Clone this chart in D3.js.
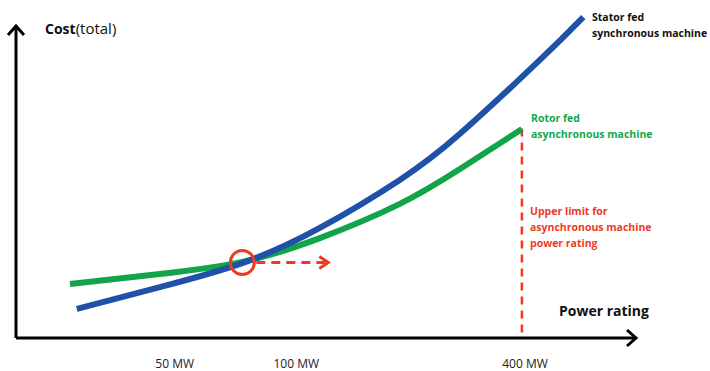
<!DOCTYPE html>
<html><head><meta charset="utf-8">
<script src="https://cdn.jsdelivr.net/npm/d3@7"></script>
<style>body{margin:0;background:#fff}svg{display:block}text{font-family:"Open Sans",sans-serif}</style>
</head><body><svg id="c" width="710" height="371"></svg>
<script>
// Data (abstract chart units: x 0-100 power rating position, y 0-100 total cost)
const statorX = [9.8, 23.2, 36.5, 49.0, 61.9, 71.6, 84.5, 91.5];
const statorY = [9.1, 15.9, 23.4, 34.4, 49.4, 63.8, 86.9, 100.3];
const rotorX  = [8.7, 23.2, 36.5, 49.0, 61.9, 71.6, 81.6];
const rotorY  = [16.9, 20.0, 23.8, 31.2, 41.9, 52.8, 65.3];
const tickLabels = ["50 MW", "100 MW", "400 MW"];
const tickPos = [25.6, 45.2, 82.1];
const crossing = [36.5, 23.6];
const limitX = 81.6, limitTop = 65.5;

const svg = d3.select("#c");
const x = d3.scaleLinear().domain([0, 100]).range([16, 636]);
const y = d3.scaleLinear().domain([0, 100]).range([338, 18]);

const line = d3.line().x(d => x(d[0])).y(d => y(d[1])).curve(d3.curveNatural);
const stator = d3.zip(statorX, statorY), rotor = d3.zip(rotorX, rotorY);

// limit line
svg.append("line").attr("x1", x(limitX)).attr("x2", x(limitX)).attr("y1", y(limitTop)).attr("y2", y(0))
  .attr("stroke", "#ee3a24").attr("stroke-width", 2.5).attr("stroke-dasharray", "8,6");

svg.append("path").attr("d", line(rotor)).attr("fill", "none").attr("stroke", "#12a449").attr("stroke-width", 6);
svg.append("path").attr("d", line(stator)).attr("fill", "none").attr("stroke", "#1f51a8").attr("stroke-width", 6);

// crossing marker
const cx = x(crossing[0]), cy = y(crossing[1]);
svg.append("circle").attr("cx", cx).attr("cy", cy).attr("r", 12).attr("fill", "none").attr("stroke", "#ee3a24").attr("stroke-width", 3);
svg.append("line").attr("x1", cx + 14).attr("x2", cx + 85).attr("y1", cy).attr("y2", cy)
  .attr("stroke", "#ee3a24").attr("stroke-width", 3).attr("stroke-dasharray", "9,6");
svg.append("path").attr("d", `M${cx+77},${cy-6}L${cx+86},${cy}L${cx+77},${cy+6}`)
  .attr("fill", "none").attr("stroke", "#ee3a24").attr("stroke-width", 3);

// axes
const ax = svg.append("g").attr("stroke", "#000").attr("stroke-width", 3).attr("fill", "none");
ax.append("path").attr("d", `M${x(0)},${y(0)}H${x(100)-2}`);
ax.append("path").attr("d", `M${x(100)-9},${y(0)-8}L${x(100)},${y(0)}L${x(100)-9},${y(0)+8}`);
ax.append("path").attr("d", `M${x(0)},${y(0)}V27`);
ax.append("path").attr("d", `M${x(0)-8},35L${x(0)},26L${x(0)+8},35`);

// tick labels
svg.selectAll(".tl").data(tickLabels).enter().append("text")
  .attr("x", (d, i) => x(tickPos[i])).attr("y", 368).attr("text-anchor", "middle")
  .attr("font-size", 12).attr("fill", "#222").text(d => d);

// texts
const t = svg.append("text").attr("x", 45).attr("y", 34).attr("font-size", 15).attr("fill", "#111");
t.append("tspan").attr("font-weight", "bold").attr("font-size", 14).text("Cost");
t.append("tspan").text("(total)");

svg.append("text").attr("x", 559).attr("y", 316).attr("font-size", 14).attr("font-weight", "bold").attr("fill", "#111").text("Power rating");

function block(lines, xx, yy, color) {
  lines.forEach((s, i) => svg.append("text").attr("x", xx).attr("y", yy + i * 16)
    .attr("font-size", 10.5).attr("font-weight", "bold").attr("fill", color).text(s));
}
block(["Stator fed", "synchronous machine"], 592, 21, "#111");
block(["Rotor fed", "asynchronous machine"], 531, 122, "#13a84a");
block(["Upper limit for", "asynchronous machine", "power rating"], 530, 215, "#ee3a24");
</script></body></html>
